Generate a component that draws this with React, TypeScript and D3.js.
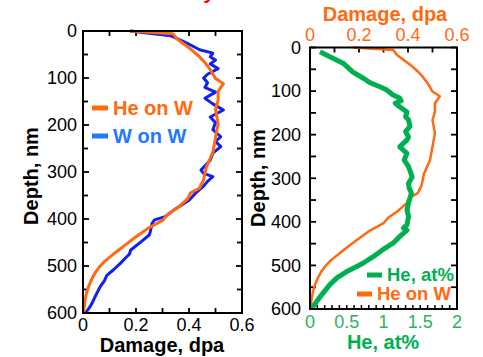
import React from "react";
import * as d3 from "d3";

const heWDepth = [0, 6, 17, 40, 55, 67, 82, 101, 112, 128, 147, 167, 197, 227, 258, 290, 317, 334, 345, 357, 377, 390, 403, 420, 440, 455, 466, 477, 490, 502, 515, 528, 542, 558, 575, 600];
const heWDamage = [0.177, 0.34, 0.355, 0.41, 0.44, 0.46, 0.48, 0.5, 0.53, 0.51, 0.51, 0.5, 0.51, 0.5, 0.49, 0.465, 0.455, 0.44, 0.405, 0.395, 0.355, 0.32, 0.3, 0.245, 0.195, 0.16, 0.135, 0.11, 0.082, 0.062, 0.045, 0.033, 0.022, 0.013, 0.007, 0.002];

const wwDepth = [0, 10, 25, 40, 47, 55, 62, 70, 80, 92, 100, 110, 120, 130, 143, 155, 168, 183, 195, 210, 225, 235, 246, 260, 275, 290, 296, 303, 310, 320, 330, 342, 360, 378, 395, 402, 410, 425, 434, 448, 466, 475, 483, 495, 508, 520, 532, 544, 555, 566, 578, 587, 600];
const wwDamage = [0.177, 0.33, 0.39, 0.44, 0.49, 0.48, 0.5, 0.48, 0.51, 0.47, 0.455, 0.47, 0.46, 0.5, 0.46, 0.49, 0.53, 0.48, 0.5, 0.49, 0.52, 0.5, 0.52, 0.49, 0.48, 0.455, 0.445, 0.455, 0.49, 0.47, 0.455, 0.43, 0.4, 0.35, 0.31, 0.27, 0.26, 0.255, 0.25, 0.22, 0.18, 0.175, 0.16, 0.14, 0.115, 0.09, 0.08, 0.065, 0.055, 0.045, 0.035, 0.026, 0.01];

const heDepth = [10, 21, 36, 56, 70, 81, 90, 97, 109, 116, 122, 128, 136, 148, 159, 166, 181, 193, 205, 212, 228, 243, 258, 273, 297, 312, 323, 334, 357, 372, 388, 407, 414, 419, 434, 449, 464, 480, 495, 503, 514, 528, 544, 563, 583, 597];
const heAt = [0.136, 0.27, 0.45, 0.58, 0.72, 0.82, 0.95, 1.04, 1.13, 1.22, 1.24, 1.16, 1.22, 1.32, 1.3, 1.34, 1.36, 1.3, 1.34, 1.32, 1.22, 1.32, 1.28, 1.34, 1.39, 1.34, 1.35, 1.38, 1.34, 1.32, 1.34, 1.32, 1.27, 1.32, 1.22, 1.13, 0.99, 0.86, 0.72, 0.63, 0.5, 0.37, 0.27, 0.18, 0.09, 0.03];

const depthTicks = [0, 100, 200, 300, 400, 500, 600];
const damageTicks = [0, 0.2, 0.4, 0.6];
const heTicks = [0, 0.5, 1, 1.5, 2];

const ORANGE = "#ff6a10";
const BLUE_LINE = "#1020f0";
const BLUE_TEXT = "#1f7aff";
const GREEN = "#00b050";
const GREEN_TEXT = "#2bb35e";
const FONT = "Arial, 'Liberation Sans', sans-serif";

type Pt = [number, number];

export default function App() {
  // Left panel
  const lx = d3.scaleLinear().domain([0, 0.6]).range([83, 242]);
  const ly = d3.scaleLinear().domain([0, 600]).range([31, 313]);
  // Right panel
  const rxD = d3.scaleLinear().domain([0, 0.6]).range([310, 457]);
  const rxH = d3.scaleLinear().domain([0, 2]).range([310, 457]);
  const ry = d3.scaleLinear().domain([0, 600]).range([47.5, 309]);

  const mk = (xs: number[], ys: number[], sx: any, sy: any) =>
    d3.line<Pt>().x((d) => sx(d[0])).y((d) => sy(d[1]))(xs.map((v, i) => [v, ys[i]] as Pt)) || "";

  const minorDepth = d3.range(0, 601, 50);
  const minorDmg = d3.range(0, 0.601, 0.1);
  const minorHe = d3.range(0, 2.001, 0.1);

  const frame = (x0: number, x1: number, y0: number, y1: number) => (
    <rect x={x0} y={y0} width={x1 - x0} height={y1 - y0} fill="none" stroke="#000" strokeWidth={2} />
  );

  return (
    <svg width={483} height={357} style={{ position: "absolute", left: 0, top: 0 }} fontFamily={FONT}>
      <rect width={483} height={357} fill="#fff" />
      <text x={205} y={-1} fill="#ff0000" fontSize={20} fontWeight="bold" fontStyle="italic">y</text>

      {/* ===== Left panel ===== */}
      <g>
        {minorDepth.map((d, i) => (
          <g key={"ld" + i}>
            <line x1={83} x2={83 + (d % 100 === 0 ? 6 : 5)} y1={ly(d)} y2={ly(d)} stroke="#000" strokeWidth={1.8} />
            <line x1={242} x2={242 - (d % 100 === 0 ? 6 : 5)} y1={ly(d)} y2={ly(d)} stroke="#000" strokeWidth={1.8} />
          </g>
        ))}
        {minorDmg.map((d, i) => (
          <g key={"lx" + i}>
            <line x1={lx(d)} x2={lx(d)} y1={31} y2={36} stroke="#000" strokeWidth={1.8} />
            <line x1={lx(d)} x2={lx(d)} y1={313} y2={308} stroke="#000" strokeWidth={1.8} />
          </g>
        ))}
        <path d={mk(wwDamage, wwDepth, lx, ly)} fill="none" stroke={BLUE_LINE} strokeWidth={3} strokeLinejoin="round" />
        <path d={mk(heWDamage, heWDepth, lx, ly)} fill="none" stroke={ORANGE} strokeWidth={3} strokeLinejoin="round" />
        {frame(83, 242, 31, 313)}
        {depthTicks.map((d) => (
          <text key={"lyt" + d} x={77} y={ly(d)} dy="0.35em" textAnchor="end" fontSize={18} fill="#000">{d}</text>
        ))}
        {damageTicks.map((d) => (
          <text key={"lxt" + d} x={lx(d)} y={331} textAnchor="middle" fontSize={18} fill="#000">{d === 0 ? "0" : d.toFixed(1)}</text>
        ))}
        <text x={162} y={352} textAnchor="middle" fontSize={20} fontWeight="bold" fill="#000">Damage, dpa</text>
        <text transform={`translate(38,176) rotate(-90)`} textAnchor="middle" fontSize={20} fontWeight="bold" fill="#000">Depth, nm</text>
        {/* legend */}
        <line x1={92} x2={108} y1={108} y2={108} stroke={ORANGE} strokeWidth={5} />
        <text x={113} y={115} fontSize={20} fontWeight="bold" fill={ORANGE}>He on W</text>
        <line x1={92} x2={108} y1={136} y2={136} stroke={BLUE_TEXT} strokeWidth={5} />
        <text x={113} y={143} fontSize={20} fontWeight="bold" fill={BLUE_TEXT}>W on W</text>
      </g>

      {/* ===== Right panel ===== */}
      <g>
        {minorDepth.map((d, i) => (
          <g key={"rd" + i}>
            <line x1={310} x2={316} y1={ry(d)} y2={ry(d)} stroke="#000" strokeWidth={1.8} />
            <line x1={457} x2={451} y1={ry(d)} y2={ry(d)} stroke="#000" strokeWidth={1.8} />
          </g>
        ))}
        {minorDmg.map((d, i) => (
          <line key={"rt" + i} x1={rxD(d)} x2={rxD(d)} y1={47.5} y2={52.5} stroke="#000" strokeWidth={1.8} />
        ))}
        {minorHe.map((d, i) => (
          <line key={"rb" + i} x1={rxH(d)} x2={rxH(d)} y1={309} y2={305} stroke="#000" strokeWidth={1.5} />
        ))}
        <path d={mk(heWDamage, heWDepth, rxD, ry)} fill="none" stroke={ORANGE} strokeWidth={2.5} strokeLinejoin="round" />
        <path d={mk(heAt, heDepth, rxH, ry)} fill="none" stroke={GREEN} strokeWidth={5} strokeLinejoin="round" />
        {frame(310, 457, 47.5, 309)}
        {depthTicks.map((d) => (
          <text key={"ryt" + d} x={301} y={ry(d)} dy="0.35em" textAnchor="end" fontSize={18} fill="#000">{d}</text>
        ))}
        {damageTicks.map((d) => (
          <text key={"rxt" + d} x={rxD(d)} y={41} textAnchor="middle" fontSize={18} fill={ORANGE}>{d === 0 ? "0" : d.toFixed(1)}</text>
        ))}
        {heTicks.map((d) => (
          <text key={"rht" + d} x={rxH(d)} y={328} textAnchor="middle" fontSize={18} fill={GREEN_TEXT}>{String(d)}</text>
        ))}
        <text x={385} y={21} textAnchor="middle" fontSize={20} fontWeight="bold" fill={ORANGE}>Damage, dpa</text>
        <text x={383} y={349} textAnchor="middle" fontSize={20} fontWeight="bold" fill={GREEN}>He, at%</text>
        <text transform={`translate(265,178) rotate(-90)`} textAnchor="middle" fontSize={20} fontWeight="bold" fill="#000">Depth, nm</text>
        {/* legend */}
        <line x1={367} x2={382} y1={275} y2={275} stroke={GREEN} strokeWidth={5} />
        <text x={387} y={281} fontSize={18.5} fontWeight="bold" fill={GREEN}>He, at%</text>
        <line x1={357} x2={372} y1={294} y2={294} stroke={ORANGE} strokeWidth={5} />
        <text x={377} y={300} fontSize={18.5} fontWeight="bold" fill={ORANGE}>He on W</text>
      </g>
    </svg>
  );
}
